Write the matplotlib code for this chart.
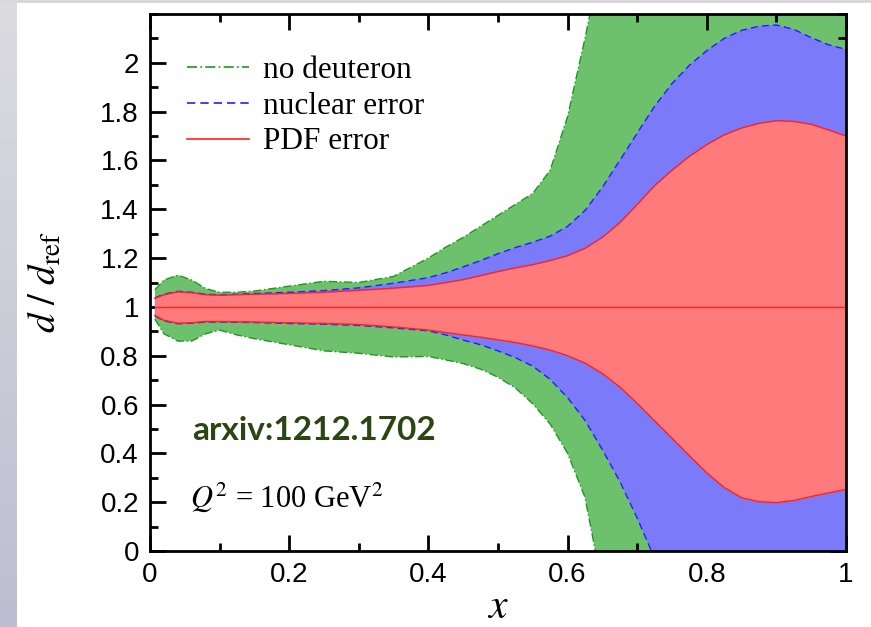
import numpy as np
import matplotlib
matplotlib.use("Agg")
import matplotlib.pyplot as plt
from matplotlib.lines import Line2D
from matplotlib.ticker import MultipleLocator

# ---------------- data ----------------
x = [0.007, 0.02, 0.04, 0.06, 0.08, 0.1, 0.125, 0.15, 0.2, 0.25, 0.3, 0.35,
     0.4, 0.425, 0.45, 0.475, 0.5, 0.525, 0.55, 0.575, 0.6, 0.625, 0.65,
     0.675, 0.7, 0.725, 0.75, 0.775, 0.8, 0.825, 0.85, 0.875, 0.9, 0.925,
     0.95, 0.975, 1.0]

pdf_hi = [1.035, 1.05, 1.062, 1.058, 1.05, 1.048, 1.05, 1.052, 1.055, 1.06, 1.068, 1.077,
          1.088, 1.10, 1.112, 1.128, 1.145, 1.16, 1.173, 1.19, 1.21, 1.24, 1.285,
          1.345, 1.42, 1.497, 1.56, 1.617, 1.665, 1.705, 1.733, 1.752, 1.763, 1.76,
          1.748, 1.725, 1.70]
pdf_lo = [0.965, 0.945, 0.933, 0.935, 0.94, 0.94, 0.939, 0.938, 0.935, 0.932, 0.928, 0.918,
          0.905, 0.895, 0.885, 0.876, 0.865, 0.854, 0.84, 0.823, 0.80, 0.77, 0.727,
          0.672, 0.605, 0.533, 0.462, 0.39, 0.32, 0.26, 0.218, 0.202, 0.198, 0.207,
          0.223, 0.238, 0.252]

nuc_hi = [1.037, 1.052, 1.064, 1.06, 1.052, 1.05, 1.052, 1.055, 1.06, 1.067, 1.078, 1.097,
          1.12, 1.14, 1.164, 1.19, 1.218, 1.243, 1.265, 1.29, 1.33, 1.395, 1.49,
          1.6, 1.712, 1.822, 1.915, 1.99, 2.05, 2.10, 2.133, 2.15, 2.155, 2.137,
          2.103, 2.074, 2.055]
nuc_lo = [0.963, 0.943, 0.931, 0.933, 0.938, 0.938, 0.937, 0.936, 0.932, 0.929, 0.924, 0.914,
          0.902, 0.885, 0.864, 0.845, 0.82, 0.792, 0.757, 0.703, 0.628, 0.535, 0.415,
          0.285, 0.135, -0.03, -0.2, -0.6, -0.6, -0.6, -0.6, -0.6, -0.6, -0.6,
          -0.6, -0.6, -0.6]

nod_hi = [1.07, 1.11, 1.13, 1.11, 1.075, 1.06, 1.06, 1.065, 1.085, 1.105, 1.10, 1.125,
          1.20, 1.245, 1.285, 1.33, 1.375, 1.42, 1.465, 1.56, 1.78, 2.1, 2.45,
          2.8, 3.0, 3.0, 3.0, 3.0, 3.0, 3.0, 3.0, 3.0, 3.0, 3.0,
          3.0, 3.0, 3.0]
nod_lo = [0.95, 0.89, 0.86, 0.86, 0.89, 0.905, 0.885, 0.87, 0.845, 0.82, 0.81, 0.795,
          0.797, 0.783, 0.768, 0.745, 0.712, 0.668, 0.603, 0.52, 0.40, 0.22, -0.15,
          -0.5, -0.6, -0.6, -0.6, -0.6, -0.6, -0.6, -0.6, -0.6, -0.6, -0.6,
          -0.6, -0.6, -0.6]

central = 1.0

x_ticks = [0, 0.2, 0.4, 0.6, 0.8, 1.0]
x_tick_labels = ["0", "0.2", "0.4", "0.6", "0.8", "1"]
y_ticks = [0, 0.2, 0.4, 0.6, 0.8, 1.0, 1.2, 1.4, 1.6, 1.8, 2.0]
y_tick_labels = ["0", "0.2", "0.4", "0.6", "0.8", "1", "1.2", "1.4", "1.6", "1.8", "2"]

legend_labels = ["no deuteron", "nuclear error", "PDF error"]

# ---------------- figure ----------------
plt.rcParams["mathtext.fontset"] = "stix"
W, H = 871, 627
fig = plt.figure(figsize=(W / 100, H / 100), dpi=100, facecolor="white")

# slide background: top grey band and left gradient band
top_band = fig.add_axes([0, 1 - 3 / H, 1, 3 / H])
top_band.axis("off")
top_band.add_patch(plt.Rectangle((0, 0), 1, 1, color="#d8d8dc", transform=top_band.transAxes))

left_band = fig.add_axes([0, 0, 17 / W, 1 - 3 / H])
grad = np.linspace(0, 1, 256)[:, None]
c_top = np.array([0.86, 0.86, 0.88])
c_bot = np.array([0.74, 0.745, 0.82])
img = c_top[None, None, :] * (1 - grad[:, :, None]) + c_bot[None, None, :] * grad[:, :, None]
left_band.imshow(img, aspect="auto", extent=[0, 1, 0, 1])
left_band.axis("off")

ax = fig.add_axes([150 / W, 1 - 551 / H, 696 / W, 537 / H])

green_fill = "#6dc16d"
blue_fill = "#7b7bfa"
red_fill = "#ff7a7a"
green_line = "#1a9a1a"
blue_line = "#2020ff"
red_line = "#ff2020"
dashdot = (0, (6, 2, 1, 2))
dashed = (0, (5, 3))

ax.fill_between(x, nod_lo, nod_hi, color=green_fill, lw=0, zorder=1)
ax.fill_between(x, nuc_lo, nuc_hi, color=blue_fill, lw=0, zorder=2)
ax.fill_between(x, pdf_lo, pdf_hi, color=red_fill, lw=0, zorder=3)

ax.plot(x, nod_hi, color=green_line, ls=dashdot, lw=1.0, zorder=4)
ax.plot(x, nod_lo, color=green_line, ls=dashdot, lw=1.0, zorder=4)
ax.plot(x, nuc_hi, color=blue_line, ls=dashed, lw=1.0, zorder=5)
ax.plot(x, nuc_lo, color=blue_line, ls=dashed, lw=1.0, zorder=5)
ax.plot(x, pdf_hi, color=red_line, lw=1.0, zorder=6)
ax.plot(x, pdf_lo, color=red_line, lw=1.0, zorder=6)
ax.plot([x[0], x[-1]], [central, central], color=red_line, lw=1.0, zorder=6)

ax.set_xlim(0, 1)
ax.set_ylim(0, 2.2)
ax.set_xticks(x_ticks)
ax.set_xticklabels(x_tick_labels)
ax.set_yticks(y_ticks)
ax.set_yticklabels(y_tick_labels)
ax.xaxis.set_minor_locator(MultipleLocator(0.1))
ax.yaxis.set_minor_locator(MultipleLocator(0.1))
ax.tick_params(which="both", direction="in", top=True, right=True, width=2.0, color="black")
ax.tick_params(which="major", length=11.5, pad=8)
ax.tick_params(which="minor", length=5.5)
for lab in ax.get_xticklabels() + ax.get_yticklabels():
    lab.set_fontfamily("Liberation Sans")
    lab.set_fontsize(20)
for sp in ax.spines.values():
    sp.set_linewidth(2.0)
    sp.set_zorder(10)

ax.set_xlabel(r"$x$", fontsize=30, labelpad=-2)
ax.set_ylabel(r"$d\ /\ d_{\mathrm{ref}}$", fontsize=28, labelpad=26)

handles = [
    Line2D([], [], color=green_line, ls=dashdot, lw=1.2),
    Line2D([], [], color=blue_line, ls=dashed, lw=1.2),
    Line2D([], [], color=red_line, lw=1.2),
]
leg = ax.legend(handles, legend_labels, loc="upper left", frameon=False,
                bbox_to_anchor=(0.035, 0.945), borderaxespad=0, handlelength=2.0,
                handletextpad=0.45, labelspacing=0.215,
                prop={"family": "Liberation Serif", "size": 22.5})

ax.text(0.06, 0.225, "arxiv:1212.1702", transform=ax.transAxes, fontsize=24,
        fontweight="bold", family="Lato", color="#2b4513", va="center", ha="left")
ax.text(0.058, 0.10, r"$Q^2$ = 100 GeV$^2$", transform=ax.transAxes, fontsize=22,
        family="Liberation Serif", va="center", ha="left")

fig.savefig("out.png", dpi=100, facecolor="white")
